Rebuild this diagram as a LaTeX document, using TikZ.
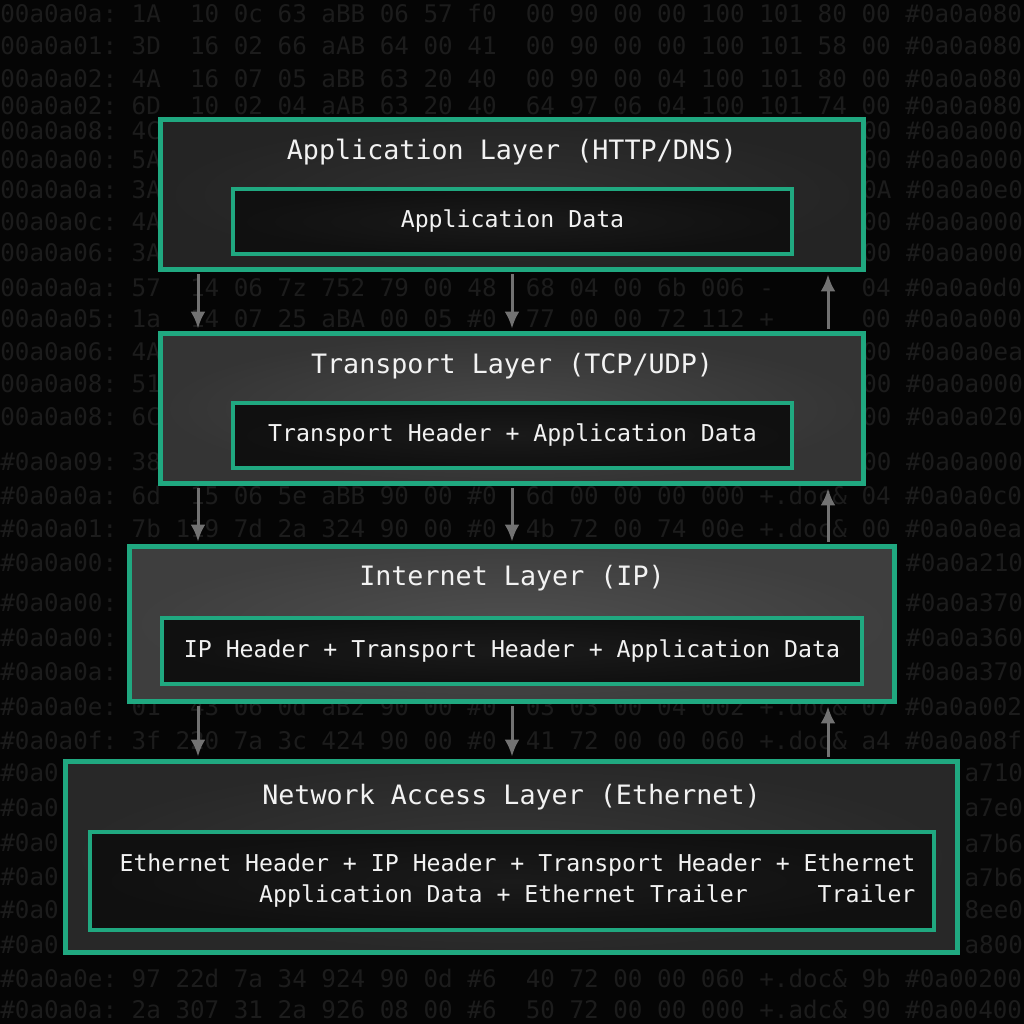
\documentclass[tikz,border=0pt]{standalone}
\usepackage{fontspec}
\setmonofont{DejaVu Sans Mono}
\usetikzlibrary{arrows.meta}
\definecolor{bgblack}{HTML}{050505}
\definecolor{hexgray}{HTML}{1C1C1C}
\definecolor{layergreen}{RGB}{32,168,128}
\definecolor{label}{HTML}{F2F2F2}
\definecolor{arrowgray}{HTML}{727272}
\definecolor{boxblack}{HTML}{101010}
\definecolor{boxmid}{HTML}{1A1A1A}
\definecolor{appgray}{HTML}{242424}
\definecolor{appmid}{HTML}{303030}
\definecolor{transportgray}{HTML}{343434}
\definecolor{transportmid}{HTML}{474747}
\definecolor{internetgray}{HTML}{3E3E3E}
\definecolor{internetmid}{HTML}{4E4E4E}
\definecolor{networkgray}{HTML}{282828}
\definecolor{networkmid}{HTML}{363636}

\begin{document}
\begin{tikzpicture}[x=0.02cm, y=-0.02cm, >={Latex[length=0.34cm,width=0.3cm]},
    hexrow/.style={anchor=west, inner sep=0, text=hexgray,
        font=\ttfamily\fontsize{13.8}{16}\selectfont\frenchspacing},
    layer/.style={draw=layergreen, line width=0.1cm, inner sep=0},
    title/.style={text=label, inner sep=0, font=\ttfamily\fontsize{15.2}{18}\selectfont},
    databox/.style={draw=layergreen, line width=0.08cm, inner color=boxmid, outer color=boxblack,
        text=label, inner sep=0, align=right, font=\ttfamily\fontsize{13.2}{17.6}\selectfont},
    flow/.style={->, draw=arrowgray, line width=0.06cm, shorten <=0.05cm, shorten >=0.05cm}]

    \useasboundingbox (0,0) rectangle (1024,1024);
    \fill[bgblack] (0,0) rectangle (1024,1024);

    \foreach \y/\hexline [count=\i] in {
        13/{00a0a0a: 1A~ 10 0c 63 aBB 06 57 f0~ 00 90 00 00 100 101 80 00 \#0a0a080},
        46/{00a0a01: 3D~ 16 02 66 aAB 64 00 41~ 00 90 00 00 100 101 58 00 \#0a0a080},
        79/{00a0a02: 4A~ 16 07 05 aBB 63 20 40~ 00 90 00 04 100 101 80 00 \#0a0a080},
        106/{00a0a02: 6D~ 10 02 04 aAB 63 20 40~ 64 97 06 04 100 101 74 00 \#0a0a080},
        287/{00a0a0a: 57~ 14 06 7z 752 79 00 48~ 68 04 00 6b 006 -~ ~ ~ 04 \#0a0a0d0},
        319/{00a0a05: 1a~ 14 07 25 aBA 00 05 \#0~ 77 00 00 72 112 +~ ~ ~ 00 \#0a0a000},
        495/{\#0a0a0a: 6d~ 15 06 5e aBB 90 00 \#0~ 6d 00 00 00 000 +.doc\& 04 \#0a0a0c0},
        528/{\#0a0a01: 7b 119 7d 2a 324 90 00 \#0~ 4b 72 00 74 00e +.doc\& 00 \#0a0a0ea},
        706/{\#0a0a0e: 01~ 43 06 0d aB2 90 00 \#0~ 03 03 00 04 002 +.doc\& 07 \#0a0a002},
        740/{\#0a0a0f: 3f 220 7a 3c 424 90 00 \#0~ 41 72 00 00 060 +.doc\& a4 \#0a0a08f},
        978/{\#0a0a0e: 97 22d 7a 34 924 90 0d \#6~ 40 72 00 00 060 +.doc\& 9b \#0a00200},
        1009/{\#0a0a0a: 2a 307 31 2a 926 08 00 \#6~ 50 72 00 00 000 +.adc\& 90 \#0a00400}}
        \node[hexrow] (hex\i) at (0,\y) {\hexline};

    \foreach \y/\hexleft/\col/\hexright [count=\i] in {
        131/{00a0a08: 4C}/59/{00 \#0a0a000},
        160/{00a0a00: 5A}/59/{00 \#0a0a000},
        190/{00a0a0a: 3A}/59/{0A \#0a0a0e0},
        222/{00a0a0c: 4A}/59/{00 \#0a0a000},
        253/{00a0a06: 3A}/59/{00 \#0a0a000},
        352/{00a0a06: 4A}/59/{00 \#0a0a0ea},
        384/{00a0a08: 51}/59/{00 \#0a0a000},
        417/{00a0a08: 6C}/59/{00 \#0a0a020},
        462/{\#0a0a09: 38}/59/{00 \#0a0a000},
        563/{\#0a0a00:}/62/{\#0a0a210},
        603/{\#0a0a00:}/62/{\#0a0a370},
        638/{\#0a0a00:}/62/{\#0a0a360},
        672/{\#0a0a0a:}/62/{\#0a0a370},
        773/{\#0a0}/66/{a710},
        808/{\#0a0}/66/{a7e0},
        843/{\#0a0}/66/{a7b6},
        877/{\#0a0}/66/{a7b6},
        910/{\#0a0}/66/{8ee0},
        945/{\#0a0}/66/{a800}}
    {
        \node[hexrow] (hexl\i) at (0,\y) {\hexleft};
        \node[hexrow] (hexr\i) at (\col*14.61,\y) {\hexright};
    }

    \node (app) at (512,194.5) [layer, inner color=appmid, outer color=appgray,
        minimum width=14.06cm, minimum height=3cm] {};
    \node (apptitle) at (512,152) [title] {Application Layer (HTTP/DNS)};
    \node (appdata) at (512.5,221.5) [databox, minimum width=11.18cm, minimum height=1.3cm] {Application Data};

    \node (transport) at (512,408.5) [layer, inner color=transportmid, outer color=transportgray,
        minimum width=14.06cm, minimum height=3cm] {};
    \node (transporttitle) at (512,366) [title] {Transport Layer (TCP/UDP)};
    \node (transportdata) at (512.5,435.5) [databox, minimum width=11.18cm, minimum height=1.3cm]
        {Transport Header + Application Data};

    \node (internet) at (512,624) [layer, inner color=internetmid, outer color=internetgray,
        minimum width=15.3cm, minimum height=3.1cm] {};
    \node (internettitle) at (512,578) [title] {Internet Layer (IP)};
    \node (internetdata) at (512,651) [databox, minimum width=14cm, minimum height=1.32cm]
        {IP Header + Transport Header + Application Data};

    \node (network) at (511.5,857) [layer, inner color=networkmid, outer color=networkgray,
        minimum width=17.84cm, minimum height=3.82cm] {};
    \node (networktitle) at (511.5,797) [title] {Network Access Layer (Ethernet)};
    \node (networkdata) at (512,881) [databox, minimum width=16.88cm, minimum height=1.96cm]
        {Ethernet Header + IP Header + Transport Header + Ethernet\hspace*{-0.22cm}\\
        Application Data + Ethernet Trailer\phantom{xxxxx}Trailer\hspace*{-0.22cm}};

    \coordinate (down) at (198,0);
    \coordinate (mid) at (512,0);
    \coordinate (up) at (828,0);

    \draw[flow] (app.south -| down) -- (transport.north -| down);
    \draw[flow] (app.south -| mid) -- (transport.north -| mid);
    \draw[flow] (transport.north -| up) -- (app.south -| up);

    \draw[flow] (transport.south -| down) -- (internet.north -| down);
    \draw[flow] (transport.south -| mid) -- (internet.north -| mid);
    \draw[flow] (internet.north -| up) -- (transport.south -| up);

    \draw[flow] (internet.south -| down) -- (network.north -| down);
    \draw[flow] (internet.south -| mid) -- (network.north -| mid);
    \draw[flow] (network.north -| up) -- (internet.south -| up);

\end{tikzpicture}
\end{document}
